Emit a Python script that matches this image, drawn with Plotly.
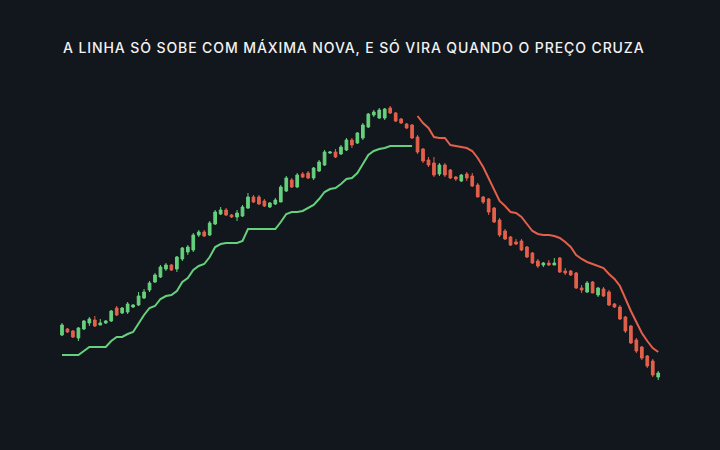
import plotly.graph_objects as go

# candle index (one per bar)
bars = list(range(110))

open_ = [115, 121, 119, 112, 121, 127, 130, 125, 127, 129, 142, 137, 138, 143, 145, 152, 160, 168, 173, 181,
         185, 181, 191, 198, 200, 215, 218, 215, 226, 236, 240, 235, 233, 234, 242, 253, 253, 249, 243, 246,
         248, 259, 270, 263, 276, 277, 272, 279, 285, 297, 298, 296, 300, 310, 307, 312, 323, 335, 332, 332,
         342, 337, 331, 326, 325, 313, 301, 290, 287, 276, 285, 280, 273, 269, 276, 274, 265, 253, 251, 242,
         230, 219, 213, 208, 209, 203, 197, 189, 185, 187, 185, 192, 179, 179, 177, 162, 158, 168, 155, 161,
         158, 146, 143, 133, 124, 110, 103, 94, 89, 73]
high = [127, 122, 120, 123, 130, 133, 134, 131, 130, 140, 144, 143, 148, 146, 158, 161, 169, 177, 185, 187,
        186, 194, 203, 205, 217, 220, 220, 229, 240, 243, 242, 236, 240, 245, 257, 255, 255, 251, 248, 252,
        265, 274, 272, 277, 278, 279, 283, 290, 300, 299, 301, 305, 312, 312, 318, 327, 337, 340, 342, 342,
        344, 338, 332, 327, 326, 315, 302, 293, 293, 287, 287, 281, 274, 276, 278, 277, 267, 254, 252, 243,
        232, 221, 214, 211, 211, 204, 198, 191, 188, 190, 192, 193, 182, 180, 178, 165, 169, 169, 163, 163,
        160, 147, 145, 134, 125, 112, 104, 95, 91, 79]
low = [114, 117, 112, 109, 120, 124, 123, 125, 126, 128, 134, 136, 136, 142, 144, 151, 158, 167, 172, 179,
       179, 178, 189, 195, 198, 213, 213, 214, 225, 235, 234, 232, 229, 233, 241, 247, 245, 243, 242, 245,
       248, 258, 262, 262, 272, 271, 270, 278, 284, 296, 292, 295, 299, 302, 306, 310, 322, 333, 331, 330,
       336, 328, 326, 321, 311, 296, 287, 283, 273, 274, 273, 271, 269, 268, 269, 263, 253, 246, 235, 227,
       213, 210, 204, 205, 199, 192, 186, 182, 183, 184, 185, 177, 175, 174, 161, 157, 157, 157, 153, 153,
       144, 142, 130, 117, 106, 97, 90, 82, 73, 70]
close = [125, 118, 113, 122, 129, 131, 124, 127, 129, 139, 135, 142, 146, 145, 154, 158, 167, 175, 183, 185,
         180, 193, 202, 203, 215, 218, 214, 227, 238, 240, 235, 233, 237, 243, 253, 248, 246, 244, 247, 250,
         263, 272, 263, 275, 273, 272, 282, 288, 298, 298, 293, 303, 310, 305, 317, 325, 336, 338, 340, 341,
         337, 329, 327, 322, 312, 298, 289, 285, 275, 285, 275, 272, 271, 275, 272, 264, 253, 248, 238, 228,
         215, 211, 205, 206, 200, 193, 187, 184, 187, 185, 187, 178, 177, 175, 162, 160, 167, 157, 162, 154,
         145, 143, 131, 119, 107, 99, 92, 84, 75, 77]

# trailing line: long side (bars 0-64), then short side (bars 65-109)
long_bars = bars[:65]
long_stop = [95, 95, 95, 95, 99, 103, 103, 103, 103, 109, 113, 113, 116, 118, 127, 135, 142, 144, 151, 154,
             155, 159, 168, 172, 180, 184, 186, 193, 203, 206, 207, 207, 207, 209, 221, 221, 221, 221, 221, 221,
             228, 236, 238, 238, 239, 242, 245, 251, 258, 261, 262, 266, 271, 272, 277, 286, 295, 299, 301, 302,
             304, 304, 304, 304, 304]
short_bars = bars[65:]
short_stop = [334, 327, 322, 313, 312, 312, 305, 304, 303, 302, 299, 292, 283, 272, 260, 249, 244, 238, 237, 233,
              226, 219, 216, 215, 215, 214, 212, 208, 203, 195, 191, 188, 186, 184, 182, 176, 171, 164, 151, 139,
              128, 117, 109, 102, 98]

title = "A LINHA SÓ SOBE COM MÁXIMA NOVA, E SÓ VIRA QUANDO O PREÇO CRUZA"

bg = "#12161d"
green = "#66d17c"
red = "#e4604b"

fig = go.Figure()
fig.add_trace(go.Scatter(x=long_bars, y=long_stop, mode="lines",
                         line=dict(color=green, width=2), hoverinfo="skip"))
fig.add_trace(go.Scatter(x=short_bars, y=short_stop, mode="lines",
                         line=dict(color=red, width=2), hoverinfo="skip"))
fig.add_trace(go.Candlestick(
    x=bars, open=open_, high=high, low=low, close=close,
    increasing=dict(line=dict(color=green, width=1), fillcolor=green),
    decreasing=dict(line=dict(color=red, width=1), fillcolor=red),
    whiskerwidth=0,
))

fig.add_annotation(
    text=f'<span style="letter-spacing:0.9px">{title}</span>',
    xref="paper", yref="paper", x=0.4915, y=1 - 47 / 450,
    xanchor="center", yanchor="middle", showarrow=False,
    font=dict(family="Inter, Roboto, sans-serif", size=14, weight=500, color="#f2f2f2"),
)

fig.update_layout(
    width=720, height=450,
    margin=dict(l=0, r=0, t=0, b=0),
    paper_bgcolor=bg, plot_bgcolor=bg,
    showlegend=False,
    xaxis=dict(range=[-62 / 5.47, 658 / 5.47], visible=False, rangeslider=dict(visible=False)),
    yaxis=dict(range=[0, 450], visible=False),
)

fig.write_html("out.html", config={"displayModeBar": False},
               post_script="document.body.style.margin='0';document.body.style.background='%s';" % bg)
